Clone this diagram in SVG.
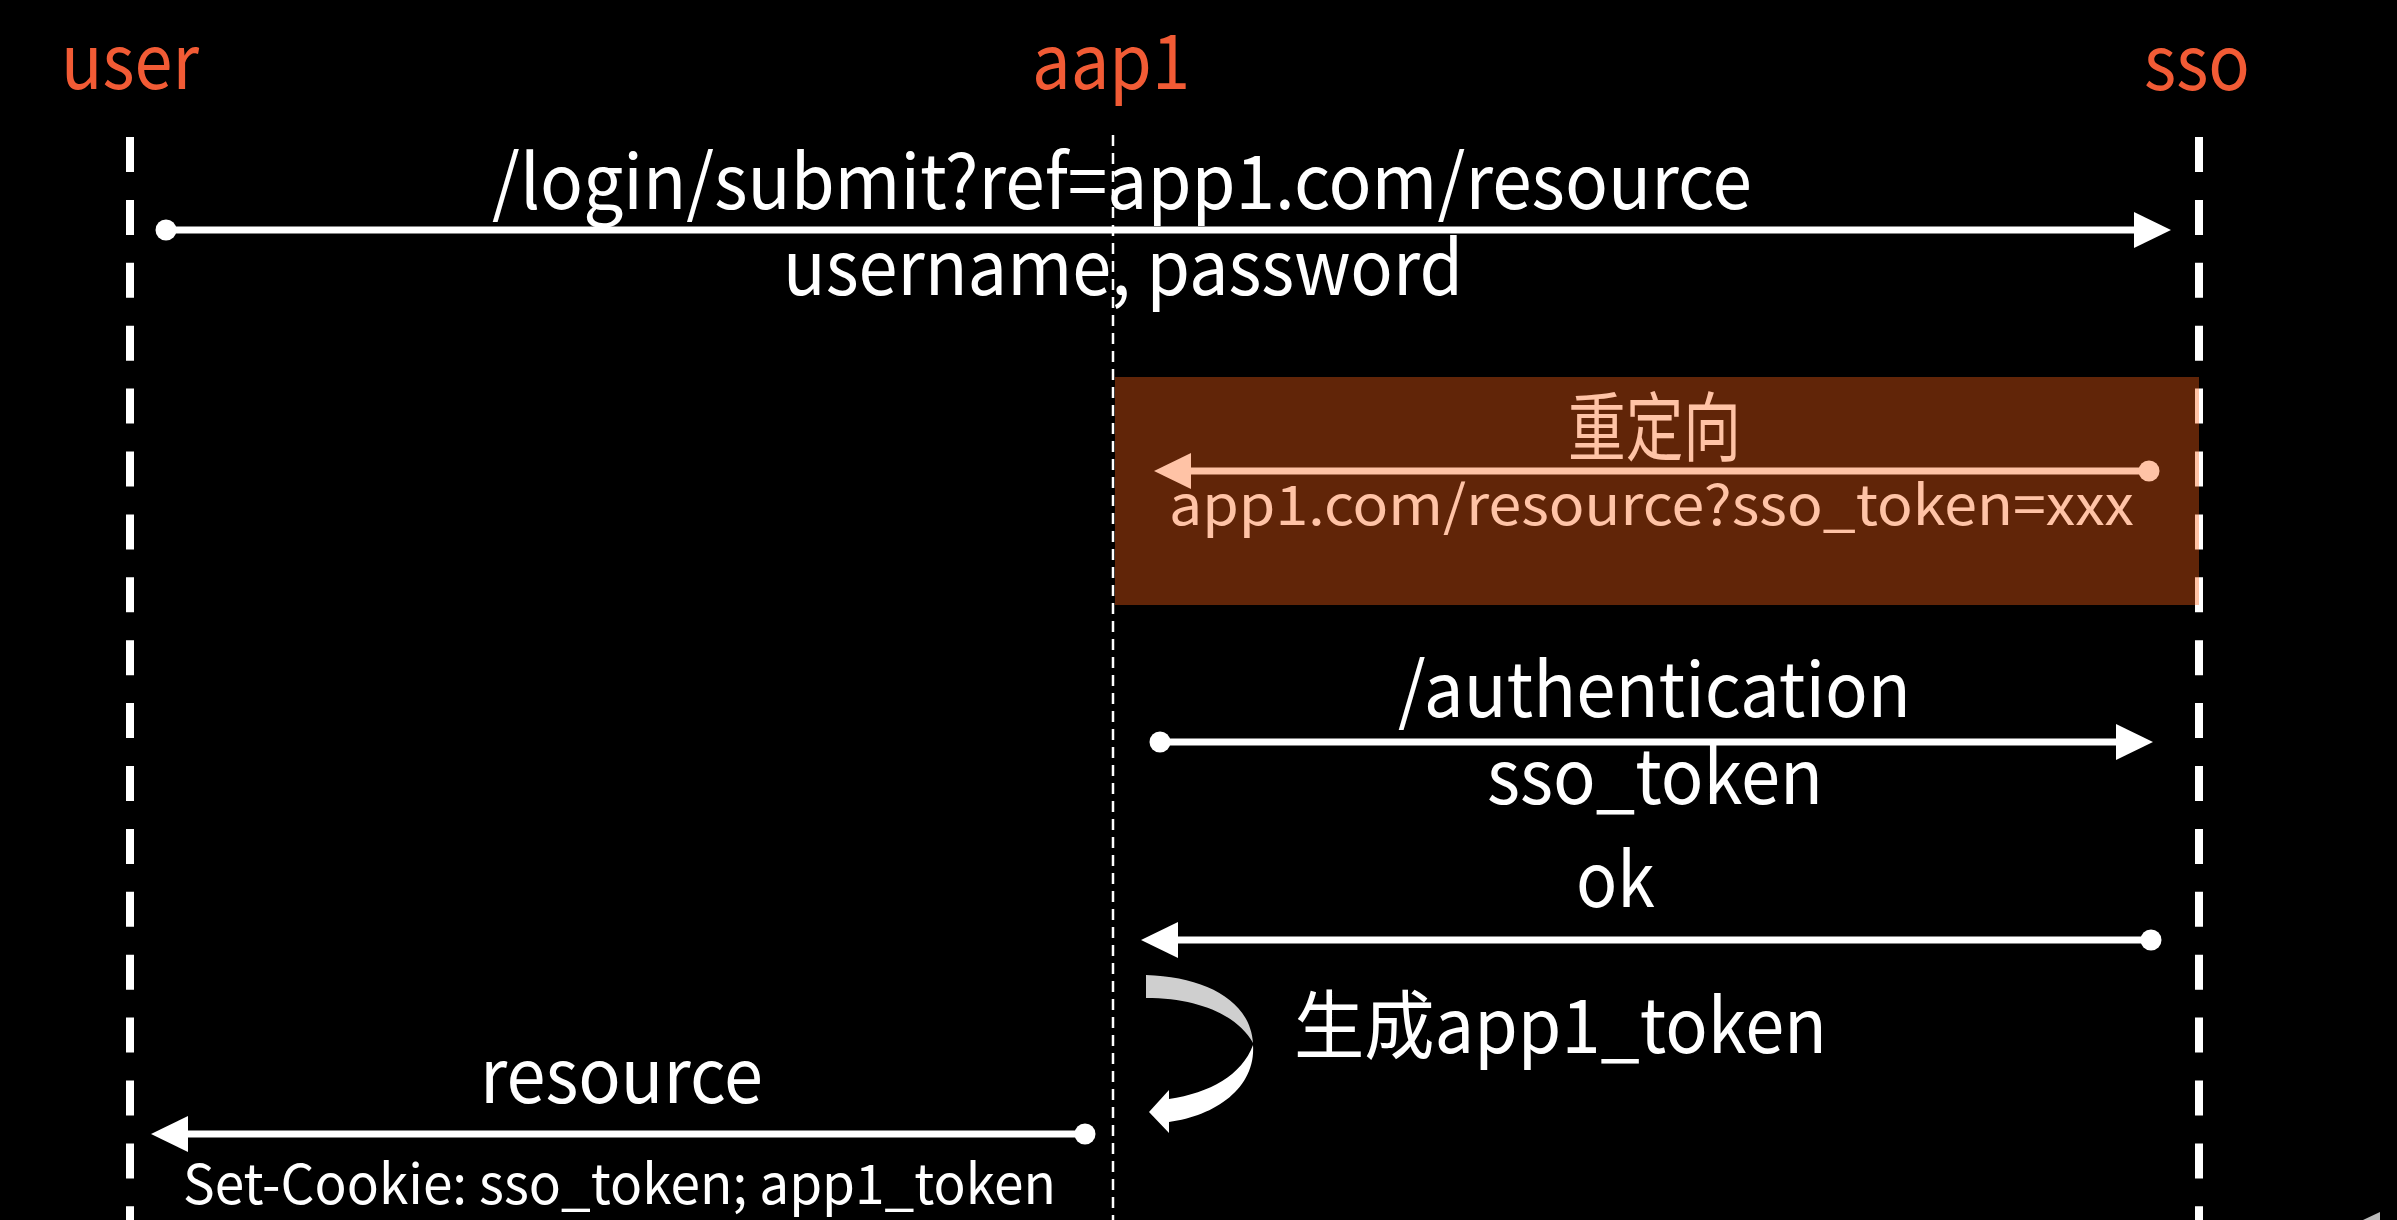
<svg xmlns="http://www.w3.org/2000/svg" width="2397" height="1220" viewBox="0 0 2397 1220">
<style>
text{font-family:"Noto Sans CJK SC","Noto Sans",sans-serif}
.actor{fill:#F25B35;font-size:76px}
.msg{fill:#FFFFFF;font-size:75px}
.sub{fill:#FFFFFF;font-size:55px}
.life{stroke:#FFFFFF;stroke-width:8;stroke-dasharray:35 27.9;fill:none}
.life-thin{stroke:#FFFFFF;stroke-width:2.5;stroke-dasharray:11 7;fill:none}
.conn{stroke:#FFFFFF;stroke-width:7;fill:none;marker-start:url(#dot);marker-end:url(#head)}
</style>
<defs>
<marker id="head" markerUnits="userSpaceOnUse" markerWidth="38" markerHeight="38" viewBox="0 0 38 38" refX="1" refY="19" orient="auto">
<path d="M0,1 L37,19 L0,37 Z" fill="#FFFFFF"/>
</marker>
<marker id="dot" markerUnits="userSpaceOnUse" markerWidth="24" markerHeight="24" viewBox="-12 -12 24 24" refX="0" refY="0" orient="auto">
<circle r="10.5" fill="#FFFFFF"/>
</marker>
</defs>
<rect width="2397" height="1220" fill="#000000"/>

<g id="user">
<text class="actor" x="61" y="89" textLength="138" lengthAdjust="spacingAndGlyphs">user</text>
<line class="life" x1="130" y1="137" x2="130" y2="1220"/>
</g>
<g id="aap1">
<text class="actor" x="1032" y="89" textLength="158" lengthAdjust="spacingAndGlyphs">aap1</text>
<line class="life-thin" x1="1113" y1="135" x2="1113" y2="1220"/>
</g>
<g id="sso">
<text class="actor" x="2144" y="90" textLength="106" lengthAdjust="spacingAndGlyphs">sso</text>
<line class="life" x1="2199" y1="137" x2="2199" y2="1220"/>
</g>

<g id="connectors">
<g id="login">
<text class="msg" x="492" y="209" textLength="1260" lengthAdjust="spacingAndGlyphs">/login/submit?ref=app1.com/resource</text>
<line class="conn" x1="166" y1="230" x2="2135" y2="230"/>
<text class="msg" x="783" y="295" textLength="680" lengthAdjust="spacingAndGlyphs">username, password</text>
</g>
<g id="redirect">
<text class="msg" x="1568" y="455" font-size="58" textLength="173" lengthAdjust="spacingAndGlyphs">重定向</text>
<line class="conn" x1="2149" y1="471" x2="1190" y2="471"/>
<text class="sub" x="1169" y="525" textLength="965" lengthAdjust="spacingAndGlyphs">app1.com/resource?sso_token=xxx</text>
</g>
<g id="auth">
<text class="msg" x="1398" y="717" textLength="513" lengthAdjust="spacingAndGlyphs">/authentication</text>
<line class="conn" x1="1160" y1="742" x2="2117" y2="742"/>
<text class="msg" x="1487" y="804" textLength="336" lengthAdjust="spacingAndGlyphs">sso_token</text>
</g>
<g id="ok">
<text class="msg" x="1576" y="907" textLength="79" lengthAdjust="spacingAndGlyphs">ok</text>
<line class="conn" x1="2151" y1="940" x2="1177" y2="940"/>
</g>
<g id="self">
<path d="M1146,975 C1205,977 1250,1000 1253,1043 C1238,1016 1200,998 1146,998 Z" fill="#CFCFCF"/>
<path d="M1253,1045 C1256,1088 1215,1116 1169,1122 L1169,1133 L1149,1112 L1169,1090 L1169,1099 C1210,1093 1242,1075 1253,1045 Z" fill="#FFFFFF"/>
<text class="msg" x="1294" y="1053" textLength="533" lengthAdjust="spacingAndGlyphs">生成app1_token</text>
</g>
<g id="resource">
<text class="msg" x="480" y="1103" textLength="283" lengthAdjust="spacingAndGlyphs">resource</text>
<line class="conn" x1="1085" y1="1134" x2="187" y2="1134"/>
<text class="sub" x="183" y="1204" textLength="873" lengthAdjust="spacingAndGlyphs">Set-Cookie: sso_token; app1_token</text>
</g>
</g>

<rect id="highlight" x="1115" y="377" width="1084" height="228" fill="#FF6116" fill-opacity="0.38"/>
<polygon points="2363,1220 2380,1212 2380,1220" fill="#BBBBBB"/>
</svg>
